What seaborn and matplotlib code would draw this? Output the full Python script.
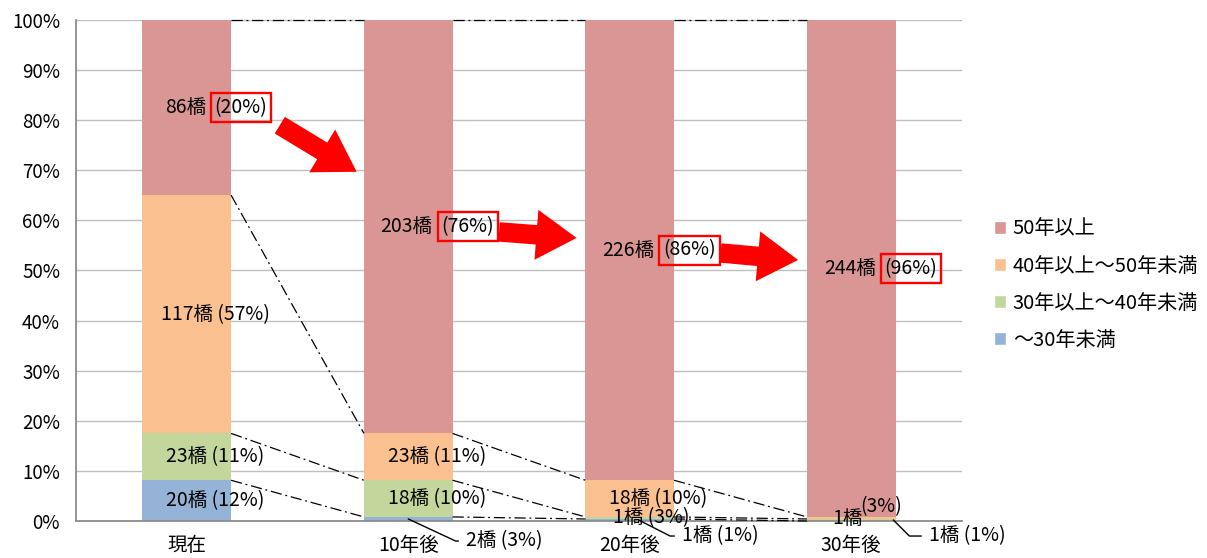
import numpy as np
import matplotlib
matplotlib.use('Agg')
import matplotlib.pyplot as plt
import seaborn as sns
from matplotlib.patches import Patch

# Data
categories = ['現在', '10年後', '20年後', '30年後']
series_names = ['～30年未満', '30年以上～40年未満', '40年以上～50年未満', '50年以上']

# bridge counts per age class
under30 = [20, 2, 1, 0]
age30_40 = [23, 18, 1, 1]
age40_50 = [117, 23, 18, 1]
over50 = [86, 203, 226, 244]

# percentages written in the labels
pct_under30 = ['12%', '3%', '1%', '']
pct_30_40 = ['11%', '10%', '3%', '1%']
pct_40_50 = ['57%', '11%', '10%', '3%']
pct_over50 = ['20%', '76%', '86%', '96%']

colors = ['#95B3D7', '#C3D69B', '#FAC090', '#D99694']

counts = np.array([under30, age30_40, age40_50, over50], dtype=float)
pcts = [pct_under30, pct_30_40, pct_40_50, pct_over50]
share = counts / counts.sum(axis=0) * 100
cum = share.cumsum(axis=0)
mid = cum - share / 2

sns.set_style('white')
plt.rcParams['font.family'] = ['Noto Sans CJK JP', 'DejaVu Sans']
plt.rcParams['text.color'] = 'black'
plt.rcParams['xtick.labelcolor'] = 'black'
plt.rcParams['ytick.labelcolor'] = 'black'

FS = 14

fig = plt.figure(figsize=(12.07, 5.58), dpi=100)
ax = fig.add_axes([0.063, 0.0663, 0.734, 0.8979])

# stacked bars: draw cumulative heights from the top series down
for s in reversed(range(4)):
    sns.barplot(x=categories, y=cum[s], color=colors[s], width=0.4,
                saturation=1, linewidth=0, ax=ax, zorder=2)

# series lines between bars
for s in range(4):
    for i in range(3):
        ax.plot([i + 0.2, i + 0.8], [cum[s][i], cum[s][i + 1]], color='black',
                lw=0.9, dashes=(9, 3, 1.5, 3), zorder=3, clip_on=False)

ax.set_xlim(-0.5, 3.5)
ax.set_ylim(0, 100)
ax.set_yticks(range(0, 101, 10))
ax.set_yticklabels([f'{v}%' for v in range(0, 101, 10)])
ax.yaxis.grid(True, color='#BFBFBF', lw=1)
ax.set_axisbelow(True)
ax.set_xlabel('')
ax.set_ylabel('')
for side in ['top', 'right']:
    ax.spines[side].set_visible(False)
for side in ['left', 'bottom']:
    ax.spines[side].set_color('#8C8C8C')
    ax.spines[side].set_linewidth(1.3)
ax.tick_params(axis='y', length=4.5, color='#8C8C8C', pad=7, labelsize=13.5)
ax.tick_params(axis='x', which='major', length=0, pad=10, labelsize=14)
ax.set_xticks(np.arange(-0.5, 3.6, 1), minor=True)
ax.tick_params(axis='x', which='minor', length=4.5, color='#8C8C8C', width=1.2)

# segment labels
def seg_label(i, s, dx=0.13, dy=0.0):
    ax.text(i + dx, mid[s][i] + dy, f'{int(counts[s][i])}橋 ({pcts[s][i]})',
            ha='center', va='center', fontsize=FS, zorder=5)

for i in range(4):
    # 50 years and over, with the red box on the percentage
    n = int(counts[3][i])
    x1 = i + 0.037 + 0.0244 * len(str(n))
    ax.text(x1, mid[3][i], f'{n}橋', ha='right', va='center',
            fontsize=FS, zorder=5)
    ax.text(x1 + 0.04, mid[3][i], f'({pcts[3][i]})', ha='left', va='center',
            fontsize=FS, zorder=5,
            bbox=dict(boxstyle='square,pad=0.2', fc='none', ec='red', lw=1.7))

seg_label(0, 2)
seg_label(0, 1)
seg_label(0, 0)
seg_label(1, 2)
seg_label(1, 1)
seg_label(2, 2)
seg_label(2, 1, dx=0.095, dy=0.1)
ax.text(2.985, mid[2][3] - 0.2, f'{int(counts[2][3])}橋', ha='center', va='center',
        fontsize=FS, zorder=5)
ax.text(3.135, mid[2][3] + 2.3, f'({pct_40_50[3]})', ha='center', va='center',
        fontsize=FS, zorder=5)

# callouts for the thinnest segments
callouts = [(1, 0, 0.0, 1.26, -4.0, -25), (2, 0, 0.04, 2.235, -3.0, -27),
            (3, 1, 0.19, 3.35, -3.0, -45)]
for i, s, xoff, tx, ty, ang in callouts:
    ax.annotate(f'{int(counts[s][i])}橋 ({pcts[s][i]})', xy=(i + xoff, cum[s][i] * 0.5),
                xytext=(tx, ty), ha='left', va='center', fontsize=FS,
                annotation_clip=False, zorder=6,
                arrowprops=dict(arrowstyle='-', color='black', lw=1,
                                shrinkA=3, shrinkB=0,
                                connectionstyle=f'angle,angleA=0,angleB={ang},rad=0'))

# red arrows between bars
arrow_tails = [(0.42, 79.0), (1.41, 57.7), (2.41, 53.5)]
arrow_heads = [(0.767, 69.7), (1.76, 56.5), (2.76, 52.1)]
for t, h in zip(arrow_tails, arrow_heads):
    ax.annotate('', xy=h, xytext=t, zorder=7,
                arrowprops=dict(arrowstyle='simple,head_length=2.9,head_width=3.6,tail_width=1.4',
                                mutation_scale=10, color='red', lw=0,
                                shrinkA=0, shrinkB=0))

handles = [Patch(facecolor=colors[s], label=series_names[s]) for s in reversed(range(4))]
fig.legend(handles=handles, loc='center left', bbox_to_anchor=(0.815, 0.49),
           frameon=False, fontsize=14.5, handlelength=0.6, handleheight=0.6,
           handletextpad=0.35, labelspacing=0.8, borderpad=0)

fig.savefig('out.png', dpi=100)
